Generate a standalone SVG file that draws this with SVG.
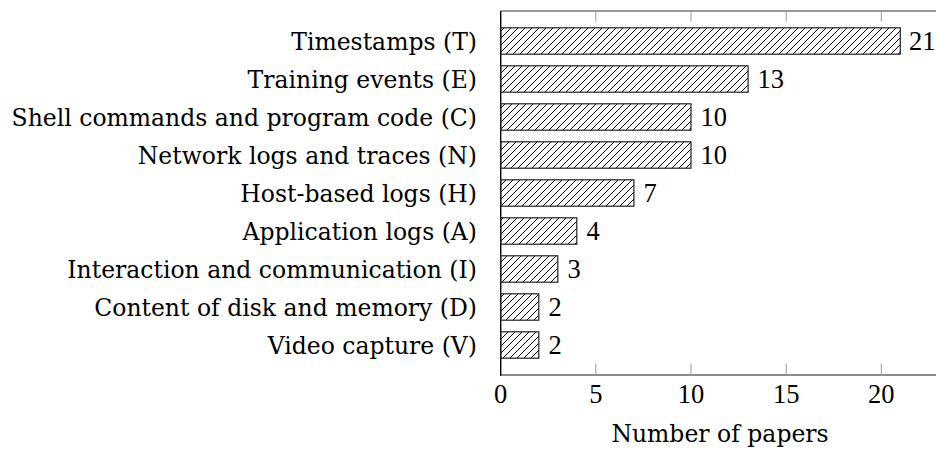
<svg xmlns="http://www.w3.org/2000/svg" width="936" height="450" viewBox="0 0 936 450">
<style>
text{font-family:"DejaVu Serif","Liberation Serif",serif;font-size:23.5px;fill:#000}
.lab{text-anchor:end}
.tl{text-anchor:middle}
.num{font-family:"Liberation Serif","DejaVu Serif",serif;font-size:26.5px}
.bar{fill:url(#hatch);stroke:#222;stroke-width:1.2}
.tick{stroke:#999;stroke-width:1}
</style>
<defs>
<pattern id="hatch" patternUnits="userSpaceOnUse" x="0" y="0" width="7" height="7">
<path d="M0,7 L7,0 M-1,1 L1,-1 M6,8 L8,6" stroke="#000" stroke-width="1"/>
</pattern>
</defs>
<g id="axes">
<line x1="500.7" y1="11" x2="936" y2="11" stroke="#333" stroke-width="1.2"/>
<line x1="500.7" y1="375" x2="936" y2="375" stroke="#666" stroke-width="1.6"/>
<line x1="500.7" y1="11" x2="500.7" y2="375.8" stroke="#000" stroke-width="1.4"/>
<line class="tick" x1="595.8" y1="11" x2="595.8" y2="21.5"/>
<line class="tick" x1="691" y1="11" x2="691" y2="21.5"/>
<line class="tick" x1="786.2" y1="11" x2="786.2" y2="21.5"/>
<line class="tick" x1="881.3" y1="11" x2="881.3" y2="21.5"/>
<line class="tick" x1="595.8" y1="363.5" x2="595.8" y2="375"/>
<line class="tick" x1="691" y1="363.5" x2="691" y2="375"/>
<line class="tick" x1="786.2" y1="363.5" x2="786.2" y2="375"/>
<line class="tick" x1="881.3" y1="363.5" x2="881.3" y2="375"/>
<text class="tl num" x="500.7" y="403.3">0</text>
<text class="tl num" x="595.8" y="403.3">5</text>
<text class="tl num" x="691" y="403.3">10</text>
<text class="tl num" x="786.2" y="403.3">15</text>
<text class="tl num" x="881.3" y="403.3">20</text>
<text class="tl" x="720" y="441.5">Number of papers</text>
</g>
<g id="bar-T"><rect class="bar" x="500.7" y="27.8" width="399.6" height="26.4"/><text class="lab" x="477" y="50">Timestamps (T)</text><text class="num" x="909" y="50">21</text></g>
<g id="bar-E"><rect class="bar" x="500.7" y="65.8" width="247.4" height="26.4"/><text class="lab" x="477" y="88">Training events (E)</text><text class="num" x="757.5" y="88">13</text></g>
<g id="bar-C"><rect class="bar" x="500.7" y="103.8" width="190.3" height="26.4"/><text class="lab" x="477" y="126">Shell commands and program code (C)</text><text class="num" x="700.5" y="126">10</text></g>
<g id="bar-N"><rect class="bar" x="500.7" y="141.8" width="190.3" height="26.4"/><text class="lab" x="477" y="164">Network logs and traces (N)</text><text class="num" x="700.5" y="164">10</text></g>
<g id="bar-H"><rect class="bar" x="500.7" y="179.8" width="133.2" height="26.4"/><text class="lab" x="477" y="202">Host-based logs (H)</text><text class="num" x="643.5" y="202">7</text></g>
<g id="bar-A"><rect class="bar" x="500.7" y="217.8" width="76.1" height="26.4"/><text class="lab" x="477" y="240">Application logs (A)</text><text class="num" x="586.5" y="240">4</text></g>
<g id="bar-I"><rect class="bar" x="500.7" y="255.8" width="57.1" height="26.4"/><text class="lab" x="477" y="278">Interaction and communication (I)</text><text class="num" x="567.5" y="278">3</text></g>
<g id="bar-D"><rect class="bar" x="500.7" y="293.8" width="38.1" height="26.4"/><text class="lab" x="477" y="316">Content of disk and memory (D)</text><text class="num" x="548.5" y="316">2</text></g>
<g id="bar-V"><rect class="bar" x="500.7" y="331.8" width="38.1" height="26.4"/><text class="lab" x="477" y="354">Video capture (V)</text><text class="num" x="548.5" y="354">2</text></g>
</svg>
